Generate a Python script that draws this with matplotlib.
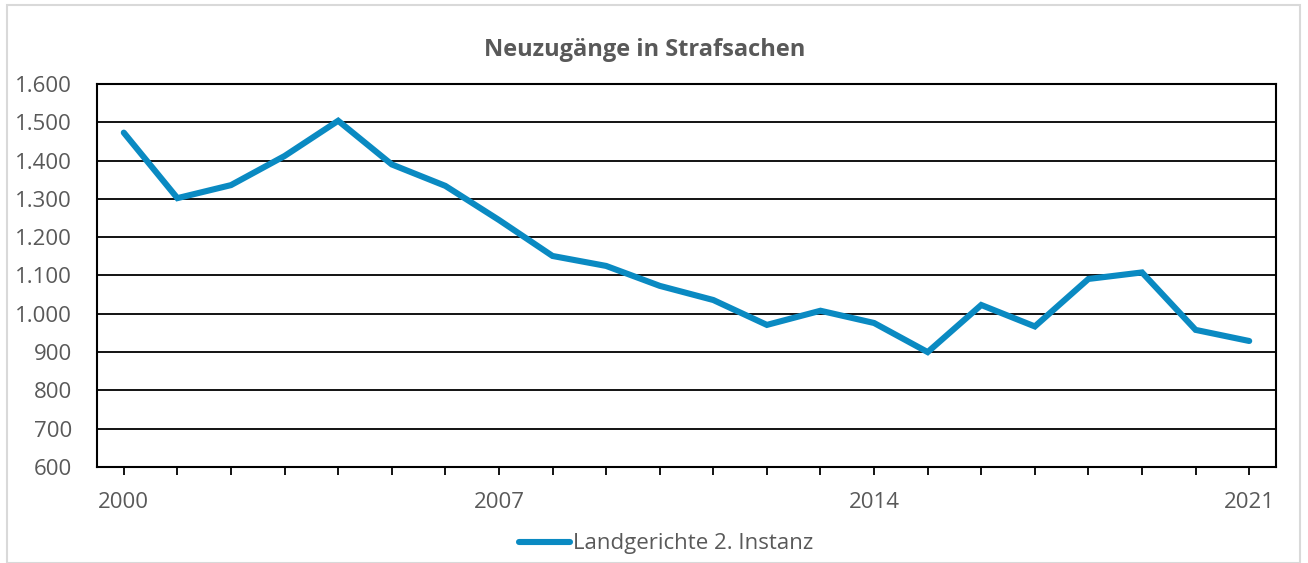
import numpy as np
import matplotlib.pyplot as plt
from matplotlib.ticker import FuncFormatter
from matplotlib.patches import Rectangle

years = list(range(2000, 2022))
neuzugaenge = [1473, 1302, 1336, 1412, 1504, 1390, 1334, 1245, 1151, 1125, 1073,
               1036, 971, 1008, 976, 900, 1023, 967, 1091, 1108, 958, 929]
year_labels = [2000, 2007, 2014, 2021]
title = "Neuzugänge in Strafsachen"
series_name = "Landgerichte 2. Instanz"

blue = '#0a8ac2'
grey = '#595959'

plt.rcParams['font.family'] = ['Open Sans', 'DejaVu Sans']

fig = plt.figure(figsize=(13.08, 5.63), dpi=100)
W, H = 1308, 563
ax = fig.add_axes([97 / W, 1 - 467 / H, (1276 - 97) / W, (467 - 84) / H])

ax.plot(years, neuzugaenge, color=blue, lw=4.4, solid_capstyle='round',
        solid_joinstyle='miter', label=series_name, zorder=3)

ax.set_ylim(600, 1600)
ax.set_yticks(np.arange(600, 1601, 100))
ax.yaxis.set_major_formatter(FuncFormatter(lambda v, p: f"{v:,.0f}".replace(",", ".")))
ax.set_xlim(years[0] - 0.5, years[-1] + 0.5)
ax.set_xticks(years)
ax.set_xticklabels([str(y) if y in year_labels else "" for y in years])

ax.grid(axis='y', color='black', lw=1.3)
ax.set_axisbelow(True)
for s in ax.spines.values():
    s.set_color('black')
    s.set_linewidth(1.5)

ax.tick_params(axis='y', length=0, pad=18, labelsize=16, labelcolor=grey)
ax.tick_params(axis='x', length=6, width=1.3, direction='out', pad=12,
               labelsize=16, labelcolor=grey)

fig.text(645 / W, 1 - 50 / H, title, ha='center', va='center',
         fontsize=17, fontweight='bold', color=grey)

leg = fig.legend(loc='center', bbox_to_anchor=(666 / W, 1 - 544 / H), frameon=False,
                 fontsize=16, handlelength=2.3, handletextpad=0.1)
for t in leg.get_texts():
    t.set_color(grey)

fig.patches.append(Rectangle((7 / W, 0), 1293 / W, 1 - 5 / H, transform=fig.transFigure,
                             fill=False, edgecolor='#d9d9d9', lw=1.5))

fig.savefig('out.png', dpi=100)
